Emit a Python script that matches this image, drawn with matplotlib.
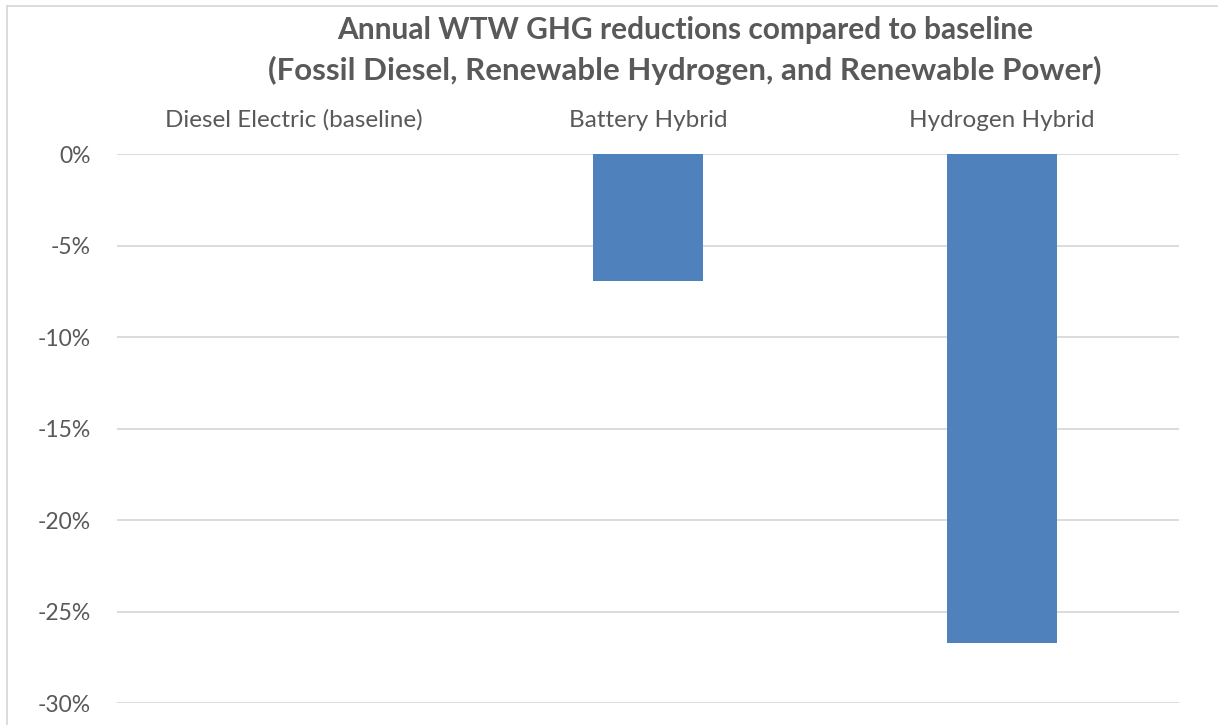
import matplotlib
matplotlib.use("Agg")
import matplotlib.pyplot as plt
from matplotlib.lines import Line2D
from matplotlib.ticker import FuncFormatter

categories = ["Diesel Electric (baseline)", "Battery Hybrid", "Hydrogen Hybrid"]
reductions = [0.0, -6.9, -26.7]
yticks = [0, -5, -10, -15, -20, -25, -30]

TEXT = "#595959"
GRID = "#D9D9D9"
BAR = "#4F81BD"

plt.rcParams['font.family'] = ['Lato', 'DejaVu Sans']

fig = plt.figure(figsize=(12.18, 7.25), dpi=100)
W, H = 1218, 725
ax = fig.add_axes([117 / W, 1 - 703.3 / H, (1179 - 117) / W, (703.3 - 154.3) / H])

x = list(range(len(categories)))
ax.bar(x, reductions, width=0.31, color=BAR, zorder=3)

ax.set_xlim(-0.5, len(categories) - 0.5)
ax.set_ylim(-30, 0)
ax.set_yticks(yticks)
ax.yaxis.set_major_formatter(FuncFormatter(lambda v, p: f"{int(round(v))}%"))
ax.grid(axis='y', color=GRID, linewidth=1.3, zorder=0)
ax.set_axisbelow(True)
for s in ax.spines.values():
    s.set_visible(False)
ax.tick_params(axis='y', length=0, pad=19, labelsize=16.5, labelcolor=TEXT)

ax.set_xticks(x)
ax.set_xticklabels(categories)
ax.xaxis.tick_top()
ax.tick_params(axis='x', length=0, pad=17, labelsize=17.5, labelcolor=TEXT)

fig.text(685 / W, 1 - 30 / H, "Annual WTW GHG reductions compared to baseline",
         ha='center', va='center', fontsize=21.5, fontweight='bold', color=TEXT)
fig.text(685 / W, 1 - 70 / H, "(Fossil Diesel, Renewable Hydrogen, and Renewable Power)",
         ha='center', va='center', fontsize=22.5, fontweight='bold', color=TEXT)

# chart border (left and top edges visible)
fig.add_artist(Line2D([7 / W, 7 / W], [0, 1 - 6 / H], transform=fig.transFigure, color=GRID, linewidth=1.3))
fig.add_artist(Line2D([7 / W, 1], [1 - 6 / H, 1 - 6 / H], transform=fig.transFigure, color=GRID, linewidth=1.3))

fig.savefig("out.png", dpi=100, facecolor="white")
